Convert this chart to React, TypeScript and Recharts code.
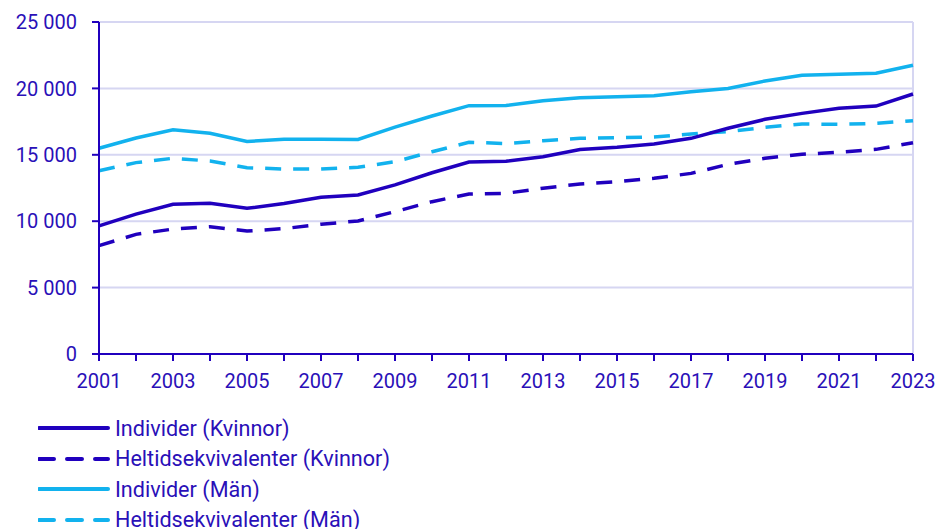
import { CartesianGrid, Line, LineChart, ReferenceLine, XAxis, YAxis } from 'recharts';

const years = [
  2001, 2002, 2003, 2004, 2005, 2006, 2007, 2008, 2009, 2010, 2011, 2012,
  2013, 2014, 2015, 2016, 2017, 2018, 2019, 2020, 2021, 2022, 2023,
];

const individerKvinnor = [
  9650, 10530, 11270, 11350, 10970, 11330, 11800, 11970, 12730, 13650, 14460, 14520,
  14860, 15400, 15560, 15810, 16240, 17000, 17670, 18120, 18500, 18670, 19580,
];
const heltidKvinnor = [
  8160, 9010, 9410, 9590, 9260, 9440, 9770, 10020, 10720, 11470, 12050, 12100,
  12480, 12800, 12970, 13230, 13600, 14280, 14740, 15040, 15190, 15410, 15910,
];
const individerMan = [
  15490, 16260, 16880, 16620, 16000, 16170, 16170, 16160, 17090, 17920, 18700, 18720,
  19070, 19300, 19380, 19450, 19750, 20000, 20560, 20990, 21060, 21140, 21740,
];
const heltidMan = [
  13800, 14410, 14740, 14530, 14030, 13930, 13930, 14060, 14480, 15230, 15940, 15850,
  16060, 16240, 16290, 16340, 16570, 16740, 17070, 17320, 17290, 17370, 17570,
];

const yTicks = [0, 5000, 10000, 15000, 20000, 25000];

const DARK = '#2000BE';
const LIGHT = '#12B2EE';
const GRID = '#D6D6F2';
const TEXT = '#2a10b8';
const FONT = 'Roboto, "Noto Sans", sans-serif';

const rows = years.map((year, i) => ({
  year,
  ik: individerKvinnor[i],
  hk: heltidKvinnor[i],
  im: individerMan[i],
  hm: heltidMan[i],
}));

const legendItems = [
  { label: 'Individer (Kvinnor)', color: DARK, dashed: false },
  { label: 'Heltidsekvivalenter (Kvinnor)', color: DARK, dashed: true },
  { label: 'Individer (Män)', color: LIGHT, dashed: false },
  { label: 'Heltidsekvivalenter (Män)', color: LIGHT, dashed: true },
];

function formatThousands(v: number) {
  return v.toLocaleString('sv-SE').replace(/\s/g, ' ');
}

export default function App() {
  return (
    <div style={{ position: 'absolute', left: 0, top: 0, width: 937, height: 529, background: '#fff', fontFamily: FONT, overflow: 'hidden' }}>
      <LineChart width={937} height={529} data={rows} margin={{ top: 22, right: 24, left: 0, bottom: 0 }}>
        <CartesianGrid horizontal vertical={false} stroke={GRID} strokeWidth={2} />
        <ReferenceLine x={2023} stroke={GRID} strokeWidth={2} />
        <XAxis
          dataKey="year"
          type="number"
          domain={[2001, 2023]}
          ticks={years}
          interval={0}
          height={175}
          tickSize={7}
          tickMargin={13}
          stroke={DARK}
          strokeWidth={2}
          tick={{ fill: TEXT, fontSize: 20, fontFamily: FONT }}
          tickFormatter={(v: number) => (v % 2 === 1 ? String(v) : '')}
        />
        <YAxis
          width={99}
          domain={[0, 25000]}
          ticks={yTicks}
          tickSize={7}
          tickMargin={15}
          stroke={DARK}
          strokeWidth={2}
          tick={{ fill: TEXT, fontSize: 20, fontFamily: FONT }}
          tickFormatter={formatThousands}
        />
        <Line dataKey="im" stroke={LIGHT} strokeWidth={3.5} dot={false} isAnimationActive={false} />
        <Line dataKey="hm" stroke={LIGHT} strokeWidth={3.5} strokeDasharray="16 12" dot={false} isAnimationActive={false} />
        <Line dataKey="ik" stroke={DARK} strokeWidth={3.5} dot={false} isAnimationActive={false} />
        <Line dataKey="hk" stroke={DARK} strokeWidth={3.5} strokeDasharray="16 12" dot={false} isAnimationActive={false} />
      </LineChart>
      <div style={{ position: 'absolute', left: 38, top: 413 }}>
        {legendItems.map((item) => (
          <div key={item.label} style={{ display: 'flex', alignItems: 'center', height: 30.5, color: TEXT, fontSize: 21.6, whiteSpace: 'nowrap' }}>
            <svg width={72} height={8} style={{ marginRight: 5, flexShrink: 0 }}>
              <line
                x1={1}
                y1={4}
                x2={70}
                y2={4}
                stroke={item.color}
                strokeWidth={4}
                strokeLinecap="round"
                strokeDasharray={item.dashed ? '15 13' : undefined}
              />
            </svg>
            <span>{item.label}</span>
          </div>
        ))}
      </div>
    </div>
  );
}
